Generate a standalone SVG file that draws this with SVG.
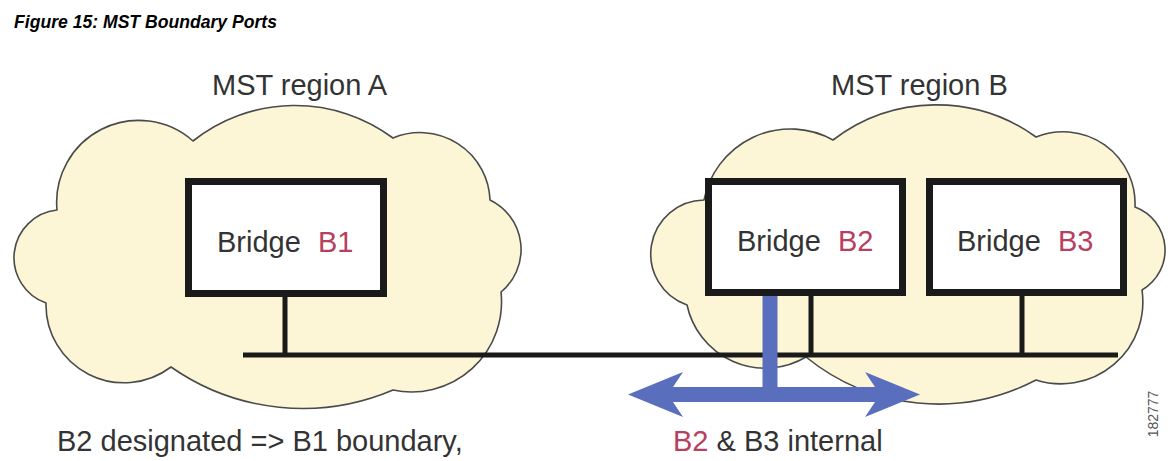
<svg xmlns="http://www.w3.org/2000/svg" width="1170" height="461" viewBox="0 0 1170 461">
  <style>
    .cloud { fill: #fcf6d6; stroke: #4a4a4a; stroke-width: 1.6; stroke-linejoin: round; }
    .box { fill: #ffffff; stroke: #1a1a1a; stroke-width: 7; }
    .wire { stroke: #1a1a1a; stroke-width: 5; fill: none; }
    .lbl { font-family: "Liberation Sans", Arial, sans-serif; font-size: 29px; fill: #333333; }
    .red { fill: #b8405f; }
    .title { font-family: "Liberation Sans", Arial, sans-serif; font-size: 18px; font-weight: bold; font-style: italic; fill: #000000; }
    .num { font-family: "Liberation Sans", Arial, sans-serif; font-size: 14px; fill: #555555; }
    .blue { fill: #5a6ebe; }
  </style>
  <rect x="0" y="0" width="1170" height="461" fill="#ffffff"/>
  <text class="title" x="14" y="28" textLength="263" lengthAdjust="spacingAndGlyphs">Figure 15: MST Boundary Ports</text>

  <g id="region-a">
    <path class="cloud" d="M 57,210 A 82 82 0 0 1 193,141 A 164 164 0 0 1 393,138 A 70 70 0 0 1 490,200 A 55 55 0 0 1 501,292 A 90 90 0 0 1 393,390 A 230 230 0 0 1 171,367 A 78 78 0 0 1 46,303 A 48 48 0 0 1 57,210 Z"/>
    <text class="lbl" x="212" y="95">MST region A</text>
  </g>
  <g id="region-b">
    <path class="cloud" d="M 704,200 A 88 88 0 0 1 833,140 A 170 170 0 0 1 1036,137 A 72 72 0 0 1 1135,207 A 46 46 0 0 1 1142,290 A 82 82 0 0 1 1036,380 A 210 210 0 0 1 806,357 A 80 80 0 0 1 687,305 A 54 54 0 0 1 704,200 Z"/>
    <text class="lbl" x="831" y="95">MST region B</text>
  </g>

  <g id="connectors">
    <line class="wire" x1="243" y1="355" x2="1118" y2="355"/>
    <line class="wire" x1="285" y1="297" x2="285" y2="355"/>
    <line class="wire" x1="811" y1="296" x2="811" y2="355"/>
    <line class="wire" x1="1022" y1="296" x2="1022" y2="355"/>
    <path class="blue" d="M 628,394.5 L 683,372 L 673,387 L 762.5,387 L 762.5,296 L 777.5,296 L 777.5,387 L 875,387 L 865,372 L 920,394.5 L 865,417 L 875,402 L 673,402 L 683,417 Z"/>
  </g>

  <g id="bridge-b1">
    <rect class="box" x="188.5" y="181.5" width="195" height="112"/>
    <text class="lbl" x="217" y="252">Bridge <tspan class="red" x="318">B1</tspan></text>
  </g>
  <g id="bridge-b2">
    <rect class="box" x="708.5" y="181.5" width="194" height="111"/>
    <text class="lbl" x="737" y="251">Bridge <tspan class="red" x="838">B2</tspan></text>
  </g>
  <g id="bridge-b3">
    <rect class="box" x="929.5" y="181.5" width="194" height="111"/>
    <text class="lbl" x="957" y="251">Bridge <tspan class="red" x="1058">B3</tspan></text>
  </g>

  <text class="lbl" x="57" y="451">B2 designated =&gt; B1 boundary,</text>
  <text class="lbl" x="673" y="451"><tspan class="red">B2</tspan> &amp; B3 internal</text>
  <text class="num" transform="translate(1158,414) rotate(-90)" text-anchor="middle">182777</text>
</svg>
